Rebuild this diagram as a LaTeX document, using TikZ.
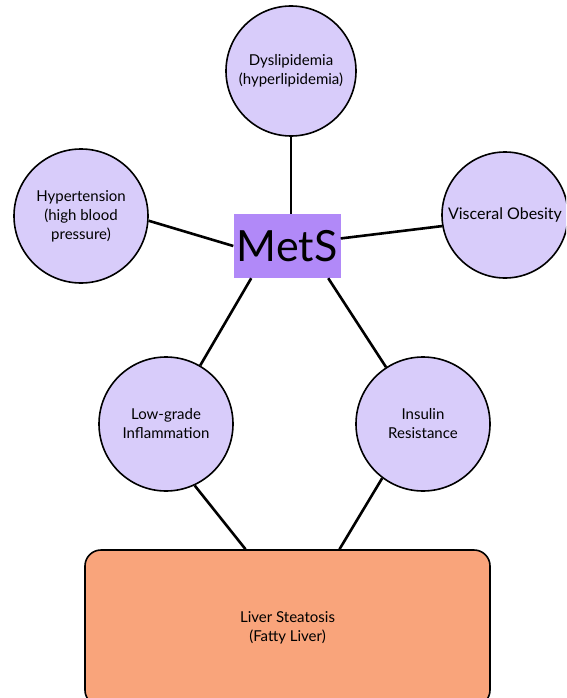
\documentclass[tikz,border=0pt]{standalone}
\usepackage{fontspec}
\setmainfont{Lato}
\usetikzlibrary{positioning}
\definecolor{bubble}{RGB}{216,204,250}
\definecolor{metsfill}{RGB}{177,137,248}
\definecolor{liverfill}{RGB}{249,164,123}

\begin{document}
\begin{tikzpicture}[x=1pt,y=-1pt,
    factor/.style={circle,draw,line width=1.6pt,fill=bubble,minimum size=132pt,
      inner sep=0pt,align=center,font=\fontsize{15}{19}\selectfont},
    link/.style={line width=2.6pt}]
  \clip (0,0) rectangle (566,698);
  \node[factor,minimum size=130pt] (dys) at (291,71) {Dyslipidemia\\(hyperlipidemia)};
  \node[factor,minimum size=134pt] (hyp) at (81,216) {Hypertension\\(high blood\\pressure)};
  \node[factor,minimum size=126pt,font=\fontsize{16}{19}\selectfont] (vis) at (505,215) {Visceral Obesity};
  \node[fill=metsfill,minimum width=107pt,minimum height=64pt,inner sep=0pt,
    font=\fontsize{43}{43}\selectfont] (mets) at (287,246) {MetS};
  \node[factor,minimum size=134pt] (low) at (166,424) {Low-grade\\Inflammation};
  \node[factor,minimum size=134pt] (ins) at (423,424) {Insulin\\Resistance};
  \node[draw,line width=1.6pt,fill=liverfill,rounded corners=16pt,minimum width=405pt,
    minimum height=156pt,align=center,font=\fontsize{15}{19}\selectfont] (liver) at (287.5,628)
    {Liver Steatosis\\(Fatty Liver)};
  % links
  \draw[link] (dys) -- (dys |- mets.north);
  \draw[link] (hyp.-4) -- (mets.west);
  \draw[link] (mets.8) -- (vis.190);
  \draw[link] (mets.-138) -- (low);
  \draw[link] (mets.-38) -- (ins);
  \draw[link] (low.-65) -- ([xshift=-42pt]liver.north);
  \draw[link] (ins.-127) -- ([xshift=52pt]liver.north);
\end{tikzpicture}
\end{document}
